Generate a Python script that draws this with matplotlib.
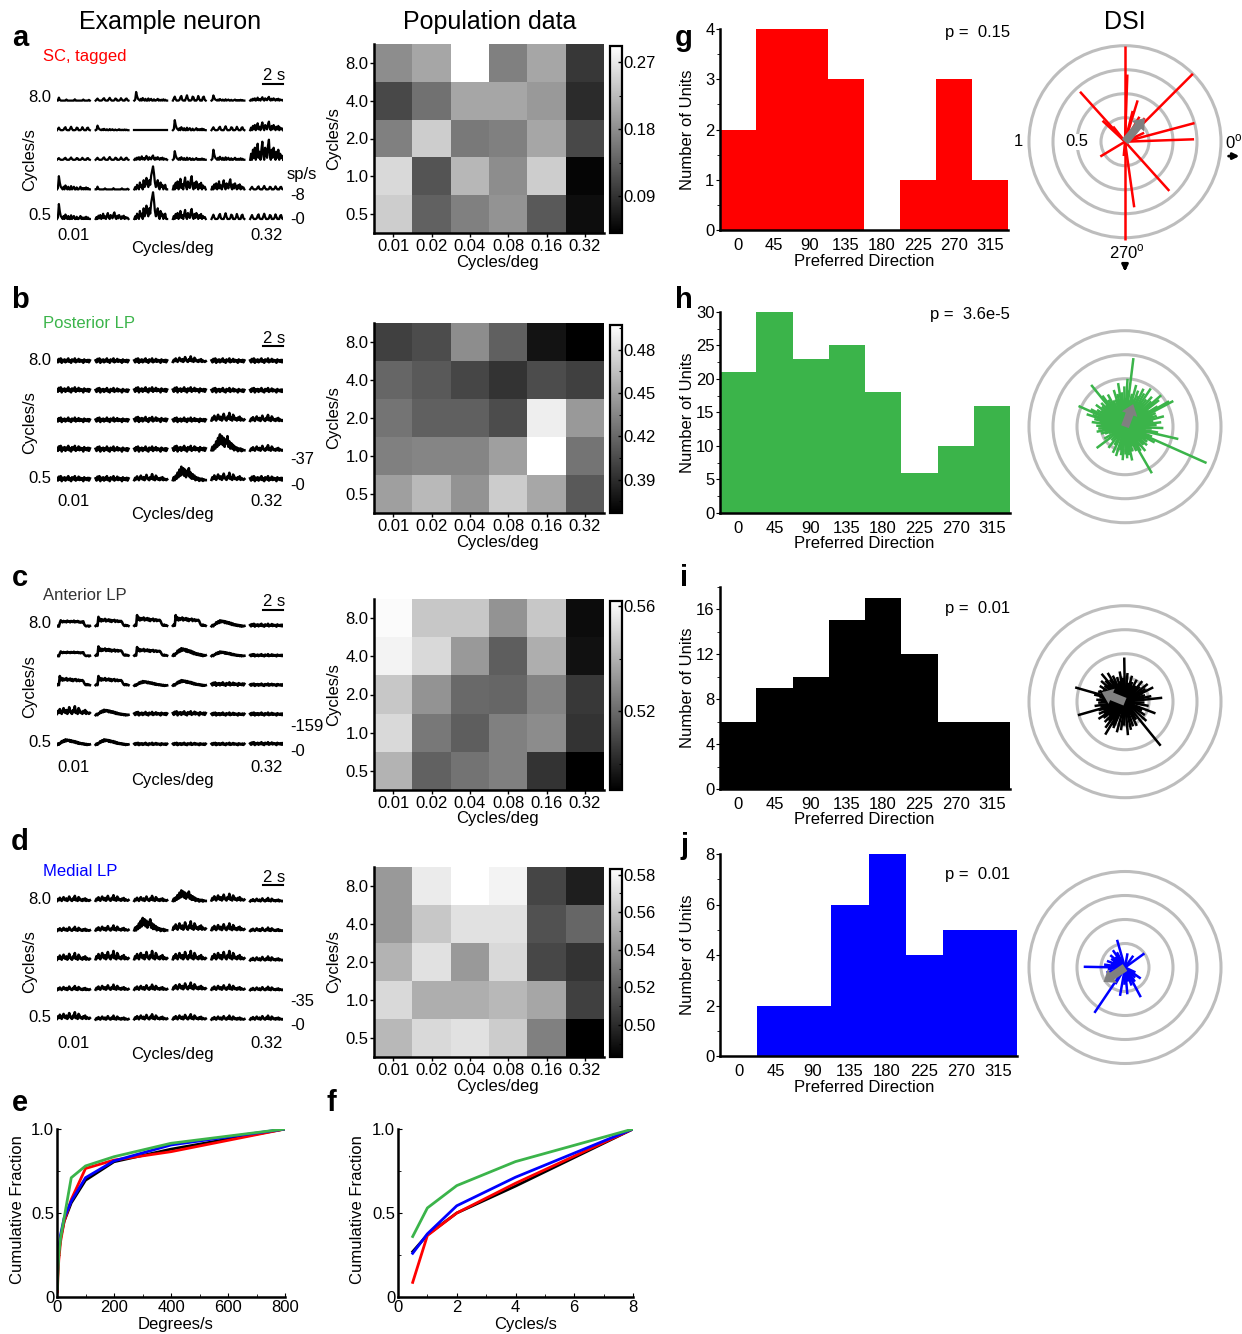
import numpy as np
import matplotlib
matplotlib.use("Agg")
import matplotlib.pyplot as plt
from matplotlib.patches import Circle
from matplotlib.ticker import MultipleLocator

plt.rcParams['font.family'] = ['Liberation Sans', 'DejaVu Sans']
plt.rcParams['mathtext.fontset'] = 'custom'
plt.rcParams['mathtext.rm'] = 'Liberation Sans'
plt.rcParams['axes.linewidth'] = 1.8

# ---------------------------------------------------------------- data
sf_labels = ['0.01', '0.02', '0.04', '0.08', '0.16', '0.32']
tf_labels = ['8.0', '4.0', '2.0', '1.0', '0.5']

# population response maps (rows 8.0 -> 0.5 cycles/s, cols 0.01 -> 0.32 cycles/deg)
pop_sc = [[0.179, 0.204, 0.292, 0.166, 0.204, 0.095],
          [0.111, 0.153, 0.204, 0.204, 0.191, 0.083],
          [0.166, 0.242, 0.161, 0.166, 0.204, 0.111],
          [0.254, 0.123, 0.221, 0.179, 0.242, 0.045],
          [0.242, 0.136, 0.166, 0.186, 0.128, 0.053]]
pop_post = [[0.400, 0.406, 0.439, 0.416, 0.377, 0.367],
            [0.419, 0.413, 0.403, 0.393, 0.406, 0.400],
            [0.426, 0.416, 0.416, 0.406, 0.488, 0.445],
            [0.432, 0.435, 0.435, 0.448, 0.497, 0.426],
            [0.448, 0.461, 0.442, 0.471, 0.452, 0.413]]
pop_ant = [[0.5606, 0.5462, 0.5462, 0.5318, 0.5462, 0.4936],
           [0.5584, 0.5512, 0.5332, 0.5166, 0.5390, 0.4950],
           [0.5462, 0.5318, 0.5200, 0.5188, 0.5274, 0.5058],
           [0.5512, 0.5238, 0.5166, 0.5260, 0.5296, 0.5044],
           [0.5404, 0.5174, 0.5224, 0.5260, 0.5044, 0.4900]]
pop_med = [[0.543, 0.575, 0.583, 0.578, 0.510, 0.495],
           [0.543, 0.561, 0.571, 0.571, 0.515, 0.523],
           [0.553, 0.571, 0.543, 0.568, 0.511, 0.503],
           [0.568, 0.551, 0.551, 0.555, 0.548, 0.508],
           [0.555, 0.568, 0.571, 0.563, 0.533, 0.483]]
cbar_range_sc, cbar_ticks_sc = (0.040, 0.292), [0.09, 0.18, 0.27]
cbar_range_post, cbar_ticks_post = (0.367, 0.497), [0.39, 0.42, 0.45, 0.48]
cbar_range_ant, cbar_ticks_ant = (0.490, 0.562), [0.52, 0.56]
cbar_range_med, cbar_ticks_med = (0.483, 0.583), [0.50, 0.52, 0.54, 0.56, 0.58]

# PSTH waveform shapes (36 bins per 3.3 s presentation, normalised)
shape_sparse = [0, 0, .8, .2, 0, 0, 0, 0, 0, 0, .3, 0, 0, 0, 0, 0, 0, 0, 0, .35,
                0, 0, 0, 0, 0, 0, 0, 0, .3, 0, 0, 0, 0, 0, .2, 0]
shape_periodic = [0, .3, .6, .2, 0, 0, 0, .1, .5, .7, .1, 0, 0, 0, .4, .8, .3, 0, 0, 0,
                  .1, .6, .5, 0, 0, 0, .2, .7, .3, 0, 0, 0, .5, .6, .1, 0]
shape_dense = [0, .3, 0, .5, .1, .6, 0, .2, .8, .1, .4, 0, .5, .9, .2, 0, .6, .3, .1, .7,
               1, .2, 0, .5, .1, .6, .3, 0, .4, .1, .5, 0, .3, .1, .2, 0]
shape_onset = [0, .1, 1, .5, .2, .1, 0, .2, 0, .3, .1, 0, .2, 0, 0, .25, 0, .1, .2, 0,
               0, .15, 0, 0, .1, .2, 0, .1, 0, .1, 0, .15, 0, .1, 0, 0]
shape_late = [0, .1, 0, .2, .1, 0, .3, .1, .2, 0, .4, .1, .3, .5, .2, .1, .4, .2, .6, .8,
              1, .7, .3, .1, .2, .4, .1, 0, .3, .1, .2, 0, .1, .2, 0, 0]
shape_plateau = [.1, .2, .05, .6, 1, .8, .7, .9, .75, .85, .7, .95, .8, .85, .7, .9, .8, .75, .95, .7,
                 .85, .75, .9, .7, .8, .65, .8, .7, .85, .4, .2, .1, .15, .2, .05, .15]
shape_noise = [.6, .2, .9, .4, 1, .1, .7, .4, .8, .2, .7, .4, 1, .3, .6, .1, .8, .5, .4, 1,
               .2, .6, .4, .9, .3, .7, .4, .6, .1, .8, .4, .6, .3, .7, .2, .6]
shape_bumpy = [.2, .5, .3, .7, .4, .2, .5, .8, .4, .3, .6, .2, .4, .9, .5, .3, .2, .6, .4, 1,
               .3, .5, .2, .8, .6, .3, .4, .2, .5, .3, .6, .2, .4, .3, .2, .3]
shape_hump = [.1, .3, .1, .4, .35, .7, .5, .85, .6, 1, .7, .95, .75, .9, .6, .85, .55, .75, .5, .7,
              .4, .6, .3, .5, .25, .4, .2, .35, .15, .3, .1, .25, .05, .2, .1, .15]
shape_onplat = [.1, .2, .1, 1, .6, .8, .55, .75, .6, .7, .8, .55, .7, .6, .75, .55, .7, .5, .65, .6,
                .7, .5, .6, .65, .5, .6, .55, .6, .5, .3, .15, .1, .2, .1, .15, .1]
shape_burst = [.1, .3, .1, .4, .2, .6, .3, .8, .4, 1, .5, .9, .4, .8, .3, .7, .5, .9, .3, .6,
               .2, .5, .2, .4, .1, .3, .15, .25, .05, .2, .1, .2, .05, .15, .1, .1]
shapes = [shape_sparse, shape_periodic, shape_dense, shape_onset, shape_late, shape_plateau,
          shape_noise, shape_bumpy, shape_hump, shape_onplat, shape_burst]

# example neurons: waveform index and peak rate (sp/s) per stimulus, resting rate, scale bar
sc_shape = [[0, 1, 3, 1, 3, 2], [1, 3, 0, 3, 1, 2], [1, 1, 2, 3, 3, 2], [3, 0, 4, 2, 2, 1], [3, 2, 4, 2, 1, 1]]
sc_amp = [[1.3, 1.2, 3.0, 2.3, 1.8, 1.3], [1.5, 1.6, 0.0, 3.5, 1.7, 3.0], [1.0, 1.2, 1.5, 3.0, 3.5, 7.0],
          [4.6, 1.2, 8.0, 4.6, 3.5, 1.5], [5.2, 2.3, 9.3, 3.5, 2.5, 2.3]]
sc_rest, sc_scale = 0.0, 8
post_shape = [[6, 6, 6, 7, 6, 6], [6, 6, 6, 6, 6, 6], [6, 6, 6, 6, 7, 7], [6, 6, 6, 6, 10, 7], [6, 6, 7, 10, 7, 6]]
post_amp = [[7, 7, 7, 10, 7, 7], [8, 7, 8, 8, 7, 7], [7, 7, 8, 7, 14, 11], [9, 8, 8, 9, 26, 10], [8, 8, 11, 22, 13, 8]]
post_rest, post_scale = 5.0, 37
ant_shape = [[5, 9, 9, 9, 8, 6], [5, 9, 9, 8, 8, 6], [9, 9, 8, 8, 6, 6], [7, 8, 6, 6, 6, 6], [8, 8, 6, 6, 6, 6]]
ant_amp = [[42, 64, 75, 75, 42, 20], [32, 64, 60, 53, 32, 15], [64, 64, 32, 38, 24, 16],
           [60, 38, 24, 28, 20, 20], [38, 38, 16, 16, 16, 20]]
ant_rest, ant_scale = 36.0, 159
med_shape = [[7, 7, 7, 10, 7, 7], [7, 7, 10, 7, 7, 7], [7, 7, 7, 7, 7, 7], [7, 7, 7, 7, 7, 7], [7, 7, 7, 7, 7, 7]]
med_amp = [[9, 10, 9, 17, 12, 6], [7, 9, 20, 15, 12, 6], [12, 15, 15, 15, 15, 7],
           [7, 9, 9, 12, 9, 6], [12, 7, 9, 9, 7, 7]]
med_rest, med_scale = 8.0, 35

# preferred directions
dir_centers = [0, 45, 90, 135, 180, 225, 270, 315]
count_sc = [2, 4, 4, 3, 0, 1, 3, 1]
count_post = [21, 30, 23, 25, 18, 6, 10, 16]
count_ant = [6, 9, 10, 15, 17, 12, 6, 6]
count_med = [0, 2, 2, 6, 8, 4, 5, 5]
p_sc, p_post, p_ant, p_med = '0.15', '3.6e-5', '0.01', '0.01'

# DSI vectors of individual units (angle in deg, DSI)
dsi_sc_ang = [15, 2, 45, 25, 50, 60, 90, 88, 73, 76, 132, 137, 128, 211, 270, 278, 265, 312]
dsi_sc_val = [0.75, 0.72, 1.0, 0.22, 0.32, 0.30, 1.0, 0.70, 0.45, 0.33, 0.70, 0.32, 0.20, 0.30, 1.02, 0.69, 0.15, 0.69]
dsi_post_ang = [347, 340, 343, 350, 353, 356, 358, 0, 3, 5, 7, 9, 11, 13, 15, 17, 19, 20, 21, 346, 8,
                28, 30, 24, 26, 32, 34, 36, 38, 40, 42, 44, 46, 48, 50, 52, 54, 56, 58, 60, 62,
                64, 66, 25, 35, 45, 55, 63, 41, 59, 49,
                83, 70, 72, 75, 78, 80, 85, 87, 89, 91, 93, 95, 97, 99, 101, 103, 105, 107, 109, 111, 88, 76, 100,
                129, 156, 114, 116, 118, 120, 122, 124, 126, 131, 133, 135, 137, 139, 141, 143, 145, 147, 149,
                151, 153, 155, 150, 128, 140,
                160, 163, 166, 169, 172, 175, 178, 181, 184, 187, 190, 193, 196, 199, 202, 170, 185, 162,
                217, 210, 225, 232, 240, 245,
                253, 258, 262, 266, 270, 274, 278, 282, 287, 290,
                336, 300, 295, 298, 303, 306, 310, 313, 316, 320, 323, 326, 329, 332, 334, 318]
dsi_post_val = [0.57, 0.30, 0.22, 0.35, 0.18, 0.28, 0.40, 0.25, 0.33, 0.15, 0.38, 0.22, 0.30, 0.20, 0.42,
                0.27, 0.35, 0.19, 0.31, 0.24, 0.12,
                0.57, 0.53, 0.35, 0.25, 0.40, 0.30, 0.22, 0.45, 0.33, 0.28, 0.38, 0.20, 0.42, 0.30, 0.36,
                0.25, 0.48, 0.32, 0.40, 0.27, 0.44, 0.35, 0.18, 0.15, 0.12, 0.16, 0.20, 0.50, 0.14, 0.24,
                0.72, 0.40, 0.30, 0.45, 0.35, 0.28, 0.38, 0.50, 0.30, 0.42, 0.25, 0.36, 0.32, 0.46, 0.27,
                0.35, 0.22, 0.40, 0.30, 0.20, 0.15, 0.18, 0.12,
                0.56, 0.53, 0.30, 0.25, 0.38, 0.22, 0.33, 0.28, 0.40, 0.30, 0.24, 0.35, 0.20, 0.32, 0.27,
                0.38, 0.22, 0.30, 0.34, 0.26, 0.40, 0.30, 0.15, 0.14, 0.12,
                0.36, 0.30, 0.33, 0.27, 0.35, 0.25, 0.30, 0.22, 0.28, 0.24, 0.30, 0.20, 0.26, 0.22, 0.18,
                0.15, 0.14, 0.42,
                0.37, 0.25, 0.20, 0.28, 0.22, 0.30,
                0.32, 0.25, 0.30, 0.35, 0.28, 0.33, 0.30, 0.36, 0.27, 0.22,
                0.93, 0.56, 0.28, 0.22, 0.30, 0.25, 0.33, 0.20, 0.27, 0.30, 0.22, 0.28, 0.25, 0.35, 0.20, 0.12]
dsi_ant_ang = [6, 339, 350, 0, 12, 18,
               27, 25, 32, 38, 45, 50, 56, 62, 66,
               91, 70, 75, 80, 85, 95, 100, 104, 108, 112,
               115, 118, 121, 124, 127, 130, 133, 136, 139, 142, 145, 148, 151, 154, 157,
               164, 196, 159, 162, 167, 170, 173, 176, 179, 182, 185, 188, 191, 194, 198, 200, 202,
               239, 205, 209, 213, 217, 221, 225, 229, 233, 237, 243, 246,
               255, 262, 268, 275, 282, 288,
               309, 296, 302, 318, 326, 333]
dsi_ant_val = [0.39, 0.34, 0.25, 0.20, 0.28, 0.22,
               0.33, 0.20, 0.25, 0.30, 0.22, 0.28, 0.20, 0.26, 0.18,
               0.46, 0.22, 0.28, 0.20, 0.30, 0.25, 0.32, 0.22, 0.27, 0.20,
               0.30, 0.24, 0.35, 0.28, 0.22, 0.38, 0.30, 0.25, 0.33, 0.27, 0.20, 0.31, 0.26, 0.22, 0.29,
               0.54, 0.51, 0.30, 0.24, 0.33, 0.27, 0.22, 0.30, 0.25, 0.28, 0.20, 0.32, 0.26, 0.22, 0.29, 0.24, 0.20,
               0.40, 0.30, 0.25, 0.33, 0.28, 0.22, 0.30, 0.26, 0.34, 0.22, 0.28, 0.30,
               0.33, 0.30, 0.25, 0.35, 0.30, 0.27,
               0.59, 0.28, 0.22, 0.30, 0.25, 0.20]
dsi_med_ang = [36, 55, 106, 80, 118, 125, 132, 140, 148, 155,
               179, 160, 166, 172, 185, 190, 195, 200,
               236, 210, 220, 240, 260, 268, 275, 282, 290, 298, 305, 315, 325, 335]
dsi_med_val = [0.25, 0.15, 0.30, 0.15, 0.18, 0.22, 0.15, 0.20, 0.17, 0.14,
               0.43, 0.20, 0.15, 0.22, 0.18, 0.12, 0.20, 0.16,
               0.57, 0.18, 0.14, 0.20, 0.30, 0.18, 0.28, 0.15, 0.20, 0.35, 0.18, 0.15, 0.20, 0.12]
# population mean vectors (angle deg, length)
mean_sc, mean_post, mean_ant, mean_med = (50, 0.32), (70, 0.25), (158, 0.26), (214, 0.27)

# cumulative distributions of preferred speed / temporal frequency
speed = [1.5625, 3.125, 6.25, 12.5, 25, 50, 100, 200, 400, 800]
speed_ant = [0.08, 0.18, 0.26, 0.35, 0.45, 0.56, 0.695, 0.805, 0.88, 1.0]
speed_sc = [0.03, 0.12, 0.22, 0.33, 0.45, 0.58, 0.765, 0.815, 0.865, 1.0]
speed_med = [0.10, 0.20, 0.28, 0.37, 0.47, 0.57, 0.71, 0.81, 0.905, 1.0]
speed_post = [0.05, 0.15, 0.25, 0.35, 0.47, 0.71, 0.78, 0.835, 0.915, 1.0]
tf = [0.5, 1, 2, 4, 8]
tf_ant = [0.27, 0.37, 0.50, 0.66, 1.0]
tf_sc = [0.087, 0.366, 0.50, 0.677, 1.0]
tf_med = [0.26, 0.376, 0.543, 0.713, 1.0]
tf_post = [0.36, 0.53, 0.663, 0.806, 1.0]

RED, GREEN, BLUE, BLACK = '#ff0000', '#3bb44a', '#0000ff', '#000000'

# ---------------------------------------------------------------- figure helpers
W, H = 1242, 1334
fig = plt.figure(figsize=(W / 100, H / 100), dpi=100)
FS = 12


def add_ax(l, t, r, b):
    return fig.add_axes([l / W, 1 - b / H, (r - l) / W, (b - t) / H])


def ftext(x, y, s, **kw):
    kw.setdefault('fontsize', FS)
    kw.setdefault('ha', 'center')
    kw.setdefault('va', 'center')
    return fig.text(x / W, 1 - y / H, s, **kw)


def letter(x, y, s):
    ftext(x, y, s, fontsize=21, fontweight='bold')


# ---------------------------------------------------------------- example traces
TD, CS = 3.3, 3.88          # presentation length and spacing (s)
T_END = 5 * CS + TD
ROW_PX = 29.6
TL, TR = 57, 283            # horizontal extent of the trace grid (px)


def trace_panel(shape_idx, amp, rest, scale, zero_px, k, name, name_color, name_y, lw, unit=False):
    pitch = ROW_PX / k
    top_px = zero_px - rest * k - 4 * ROW_PX - 40
    bot_px = zero_px + 6
    ax = add_ax(TL, top_px, TR, bot_px)
    ax.set_xlim(0, T_END)
    ax.set_ylim(-(bot_px - zero_px) / k, (zero_px - top_px) / k)
    ax.axis('off')
    t = np.linspace(0, TD, 36)
    for r in range(5):
        off = (4 - r) * pitch
        for c in range(6):
            y = off + rest + amp[r][c] * np.asarray(shapes[shape_idx[r][c]], float)
            ax.plot(c * CS + t, y, color='k', lw=lw, solid_joinstyle='round')
    top_row_px = zero_px - rest * k - 4 * ROW_PX
    bot_row_px = zero_px - rest * k
    # time scale bar
    ybar = (zero_px - (top_row_px - 17)) / k
    ax.plot([T_END - 2, T_END], [ybar, ybar], color='k', lw=1.5, clip_on=False)
    ftext(274, top_row_px - 25, '2 s')
    # rate scale labels
    ax.text(T_END + 0.75, scale, '-' + str(scale), fontsize=FS, ha='left', va='center', clip_on=False)
    ax.text(T_END + 0.75, 0, '-0', fontsize=FS, ha='left', va='center', clip_on=False)
    if unit:
        ftext(302, zero_px - 44, 'sp/s')
    ftext(51, top_row_px - 3, '8.0', ha='right')
    ftext(51, bot_row_px - 3, '0.5', ha='right')
    ftext(30, (top_row_px + bot_row_px) / 2, 'Cycles/s', rotation=90)
    ftext(73, zero_px + 17, '0.01')
    ftext(267, zero_px + 17, '0.32')
    ftext(172, zero_px + 29, 'Cycles/deg')
    ftext(43, name_y, name, color=name_color, ha='left')


trace_panel(sc_shape, sc_amp, sc_rest, sc_scale, 219, 23 / 8, 'SC, tagged', RED, 57, 1.6, unit=True)
trace_panel(post_shape, post_amp, post_rest, post_scale, 485, 25 / 37, 'Posterior LP', GREEN, 323, 1.9)
trace_panel(ant_shape, ant_amp, ant_rest, ant_scale, 751, 25 / 159, 'Anterior LP', '#333333', 596, 1.9)
trace_panel(med_shape, med_amp, med_rest, med_scale, 1026, 24 / 35, 'Medial LP', BLUE, 871, 1.9)


# ---------------------------------------------------------------- population maps
def heat_panel(data, crange, cticks, top, bot):
    ax = add_ax(374, top, 604, bot)
    im = ax.imshow(np.array(data), cmap='gray', vmin=crange[0], vmax=crange[1],
                   aspect='auto', interpolation='nearest')
    ax.set_xticks(range(6))
    ax.set_xticklabels(sf_labels)
    ax.set_yticks(range(5))
    ax.set_yticklabels(tf_labels)
    for s in ('top', 'right'):
        ax.spines[s].set_visible(False)
    ax.tick_params(direction='out', length=3, width=1, labelsize=FS, pad=1)
    ftext(497, bot + 29, 'Cycles/deg')
    ftext(334, (top + bot) / 2, 'Cycles/s', rotation=90)
    cax = add_ax(610, top + 2, 622, bot)
    cb = fig.colorbar(im, cax=cax)
    cb.set_ticks(cticks)
    cb.set_ticklabels(['%.2f' % v for v in cticks])
    step = cticks[1] - cticks[0]
    cax.yaxis.set_minor_locator(MultipleLocator(step / 2))
    cax.tick_params(which='major', direction='in', length=3, width=1, labelsize=FS, pad=1)
    cax.tick_params(which='minor', direction='in', length=2, width=0.8)
    cb.outline.set_linewidth(1.6)


heat_panel(pop_sc, cbar_range_sc, cbar_ticks_sc, 44, 233)
heat_panel(pop_post, cbar_range_post, cbar_ticks_post, 323, 513)
heat_panel(pop_ant, cbar_range_ant, cbar_ticks_ant, 599, 790)
heat_panel(pop_med, cbar_range_med, cbar_ticks_med, 867, 1057)


# ---------------------------------------------------------------- direction histograms
def hist_panel(counts, color, top, bot, right, ymax, ystep, yminor, ptxt, p_px):
    ax = add_ax(720, top, right, bot)
    ax.bar(dir_centers, counts, width=45, color=color, linewidth=0)
    ax.set_xlim(-22.5, 337.5)
    ax.set_ylim(0, ymax)
    ax.set_xticks(dir_centers)
    ax.set_yticks(np.arange(0, ymax + 0.01, ystep))
    ax.yaxis.set_minor_locator(MultipleLocator(yminor))
    for s in ('top', 'right'):
        ax.spines[s].set_visible(False)
    ax.tick_params(axis='x', length=0, labelsize=FS, pad=6)
    ax.tick_params(axis='y', which='major', direction='out', length=3, labelsize=FS, pad=1)
    ax.tick_params(axis='y', which='minor', direction='out', length=2)
    ftext(1010, p_px, 'p =  ' + ptxt, ha='right')
    ftext(864, bot + 31, 'Preferred Direction')
    ftext(687, (top + bot) / 2, 'Number of Units', rotation=90)


hist_panel(count_sc, RED, 29, 230, 1008, 4, 1, 0.5, p_sc, 33)
hist_panel(count_post, GREEN, 312, 513, 1010, 30, 5, 2.5, p_post, 314)
hist_panel(count_ant, BLACK, 586.5, 789, 1010, 18, 4, 2, p_ant, 609)
hist_panel(count_med, BLUE, 854, 1056, 1017, 8, 2, 1, p_med, 875)


# ---------------------------------------------------------------- DSI polar plots
def dsi_panel(ang, val, color, cx, cy, mean_vec, labels=False):
    R = 96.0
    ax = add_ax(cx - 124, cy - 124, cx + 117, cy + 124)
    ax.set_xlim(-124 / R, 117 / R)
    ax.set_ylim(-124 / R, 124 / R)
    ax.axis('off')
    ax.patch.set_visible(False)
    for r in (0.25, 0.5, 0.75, 1.0):
        ax.add_patch(Circle((0, 0), r, fill=False, ec='#bdbdbd', lw=2.2, zorder=1))
    th = np.deg2rad(np.asarray(ang, float))
    v = np.asarray(val, float)
    for a, d in zip(th, v):
        ax.plot([0, d * np.cos(a)], [0, d * np.sin(a)], color=color, lw=1.8,
                solid_capstyle='butt', zorder=2, clip_on=False)
    ma, mr = np.deg2rad(mean_vec[0]), mean_vec[1]
    ax.arrow(0, 0, mr * np.cos(ma), mr * np.sin(ma), width=0.085, head_width=0.17,
             head_length=0.11, length_includes_head=True, color='#808080', lw=0, zorder=3)
    if labels:
        ax.text(-0.5, 0, '0.5', fontsize=FS, ha='center', va='center', zorder=4,
                bbox=dict(fc='white', ec='none', pad=0.5))
        ax.text(-1.06, 0, '1', fontsize=FS, ha='right', va='center')
        ax.text(1.04, 0.0, r'0$^{\mathrm{o}}$', fontsize=FS, ha='left', va='center', clip_on=False)
        ax.annotate('', xy=(1.22, -0.15), xytext=(1.05, -0.15), annotation_clip=False,
                    arrowprops=dict(arrowstyle='-|>', color='k', lw=2, mutation_scale=9))
        ax.text(0.02, -1.15, r'270$^{\mathrm{o}}$', fontsize=FS, ha='center', va='center', clip_on=False)
        ax.annotate('', xy=(0.0, -1.38), xytext=(0.0, -1.26), annotation_clip=False,
                    arrowprops=dict(arrowstyle='-|>', color='k', lw=2, mutation_scale=9))


dsi_panel(dsi_sc_ang, dsi_sc_val, RED, 1125, 141.7, mean_sc, labels=True)
dsi_panel(dsi_post_ang, dsi_post_val, GREEN, 1125, 426.7, mean_post)
dsi_panel(dsi_ant_ang, dsi_ant_val, BLACK, 1125, 701.7, mean_ant)
dsi_panel(dsi_med_ang, dsi_med_val, BLUE, 1125, 967.5, mean_med)


# ---------------------------------------------------------------- cumulative fractions
def cum_panel(left, right, x, series, xmax, xstep, xminor, xlabel, ylabel_x, xlabel_x):
    ax = add_ax(left, 1129, right, 1297)
    for ys, col in series:
        ax.plot(x, ys, color=col, lw=2)
    ax.set_xlim(0, xmax)
    ax.set_ylim(0, 1)
    ax.set_xticks(np.arange(0, xmax + 0.01, xstep))
    ax.xaxis.set_minor_locator(MultipleLocator(xminor))
    ax.set_yticks([0, 0.5, 1.0])
    ax.set_yticklabels(['0', '0.5', '1.0'])
    ax.yaxis.set_minor_locator(MultipleLocator(0.25))
    for s in ('top', 'right'):
        ax.spines[s].set_visible(False)
    ax.tick_params(which='major', direction='in', length=3, labelsize=FS, pad=2)
    ax.tick_params(which='minor', direction='in', length=2)
    ftext(ylabel_x, 1210, 'Cumulative Fraction', rotation=90)
    ftext(xlabel_x, 1325, xlabel)


cum_panel(57, 285, speed, [(speed_ant, BLACK), (speed_sc, RED), (speed_med, BLUE), (speed_post, GREEN)],
          800, 200, 100, 'Degrees/s', 18, 176)
cum_panel(398, 633, tf, [(tf_ant, BLACK), (tf_sc, RED), (tf_med, BLUE), (tf_post, GREEN)],
          8, 2, 1, 'Cycles/s', 357, 526)

# ---------------------------------------------------------------- titles and panel letters
ftext(170, 22, 'Example neuron', fontsize=18)
ftext(490, 22, 'Population data', fontsize=18)
ftext(1125, 22, 'DSI', fontsize=18)
for s, x, y in [('a', 20, 38), ('b', 20, 300), ('c', 20, 578), ('d', 20, 842),
                ('e', 20, 1103), ('f', 331, 1103), ('g', 684, 38), ('h', 684, 300),
                ('i', 684, 578), ('j', 684, 846)]:
    letter(x, y, s)

fig.savefig('out.png', dpi=100)
